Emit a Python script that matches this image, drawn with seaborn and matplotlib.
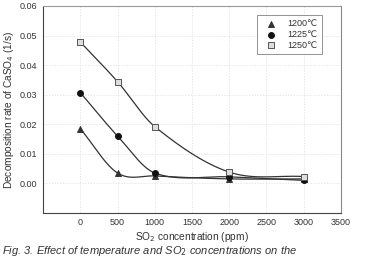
import numpy as np
import pandas as pd
import seaborn as sns
import matplotlib
matplotlib.use('Agg')
import matplotlib.pyplot as plt

# Data
so2_ppm = [0, 500, 1000, 2000, 3000]
rate_1200 = [0.0185, 0.0035, 0.0025, 0.0015, 0.0015]
rate_1225 = [0.0307, 0.0160, 0.0035, 0.0022, 0.0010]
rate_1250 = [0.0478, 0.0344, 0.0192, 0.0038, 0.0023]
labels = ['1200\u2103', '1225\u2103', '1250\u2103']


def smooth_curve(x, y, n=60):
    # Catmull-Rom style Hermite curve through the measured points
    x = np.asarray(x, float)
    y = np.asarray(y, float)
    k = len(x)
    m = np.zeros(k)
    m[0] = (y[1] - y[0]) / (x[1] - x[0])
    m[-1] = (y[-1] - y[-2]) / (x[-1] - x[-2])
    for i in range(1, k - 1):
        m[i] = (y[i + 1] - y[i - 1]) / (x[i + 1] - x[i - 1])
    xs_all, ys_all = [], []
    for i in range(k - 1):
        h = x[i + 1] - x[i]
        t = np.linspace(0, 1, n)
        h00 = 2 * t**3 - 3 * t**2 + 1
        h10 = t**3 - 2 * t**2 + t
        h01 = -2 * t**3 + 3 * t**2
        h11 = t**3 - t**2
        xs_all.append(x[i] + t * h)
        ys_all.append(h00 * y[i] + h10 * h * m[i] + h01 * y[i + 1] + h11 * h * m[i + 1])
    return np.concatenate(xs_all), np.concatenate(ys_all)


sns.set_style('white')
plt.rcParams['font.family'] = ['Liberation Sans', 'DejaVu Sans']

fig = plt.figure(figsize=(3.71, 2.59), dpi=100)
ax = fig.add_axes([0.116, 0.178, 0.803, 0.799])

styles = [
    dict(marker='^', color='#333333', edgecolor='#333333', s=18),
    dict(marker='o', color='#111111', edgecolor='#111111', s=18),
    dict(marker='s', color='#dddddd', edgecolor='#555555', s=18),
]

for rates, lab, st in zip([rate_1200, rate_1225, rate_1250], labels, styles):
    xs, ys = smooth_curve(so2_ppm, rates)
    sns.lineplot(x=xs, y=ys, ax=ax, color='#333333', linewidth=0.9, zorder=2, sort=False)
    sns.scatterplot(x=so2_ppm, y=rates, ax=ax, marker=st['marker'], color=st['color'],
                    edgecolor=st['edgecolor'], s=st['s'], linewidth=0.7, zorder=3, label=lab)

ax.set_xlim(-500, 3500)
ax.set_ylim(-0.01, 0.06)
ax.set_xticks(range(0, 3501, 500))
ax.set_yticks([0.0, 0.01, 0.02, 0.03, 0.04, 0.05, 0.06])
ax.set_yticklabels(['0.00', '0.01', '0.02', '0.03', '0.04', '0.05', '0.06'])
ax.tick_params(labelsize=6.5, colors='#333333', length=2, direction='in', pad=4)
ax.grid(True, linestyle=(0, (2, 2)), color='#dddddd', linewidth=0.5)
for side in ['left', 'bottom']:
    ax.spines[side].set_color('#444444')
    ax.spines[side].set_linewidth(0.8)
ax.spines['right'].set_color('#888888')
ax.spines['right'].set_linewidth(0.8)
ax.spines['top'].set_color('#999999')
ax.spines['top'].set_linestyle((0, (1, 1)))
ax.spines['top'].set_linewidth(0.8)

ax.set_xlabel('SO$_2$ concentration (ppm)', fontsize=7.3, color='#333333', labelpad=2)
ax.set_ylabel('Decomposition rate of CaSO$_4$ (1/s)', fontsize=7.3, color='#333333', labelpad=3)

leg = ax.legend(loc='upper right', fontsize=6.5, frameon=True, fancybox=False,
                handletextpad=0.8, borderpad=0.5, labelspacing=0.2,
                bbox_to_anchor=(0.95, 0.98))
leg.get_frame().set_edgecolor('#777777')
leg.get_frame().set_linewidth(0.7)
for t in leg.get_texts():
    t.set_color('#333333')

fig.text(0.005, 0.002, 'Fig. 3. Effect of temperature and SO$_2$ concentrations on the',
         fontsize=8, style='italic', color='#333333', va='bottom')

fig.savefig('out.png', dpi=100)
